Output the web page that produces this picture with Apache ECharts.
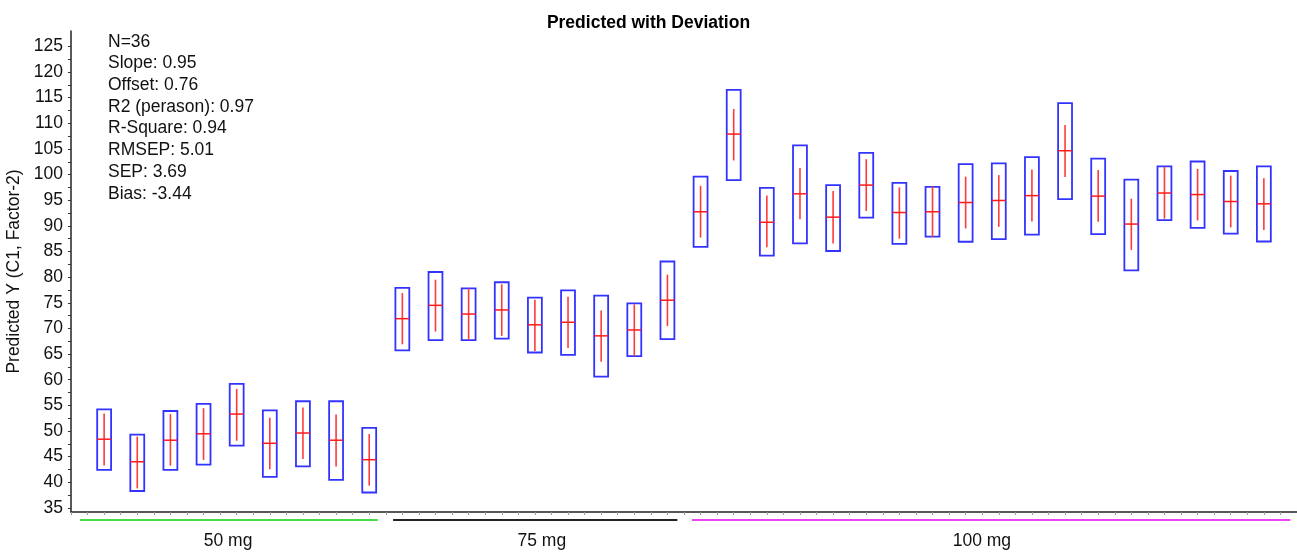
<!DOCTYPE html>
<html>
<head>
<meta charset="utf-8">
<script src="https://cdn.jsdelivr.net/npm/echarts@6/dist/echarts.min.js"></script>
<style>
html,body{margin:0;padding:0;background:#fff;}
#chart{width:1297px;height:552px;}
</style>
</head>
<body>
<div id="chart"></div>
<script>
// ---- data ----
const sampleIndex = [1,2,3,4,5,6,7,8,9,10,11,12,13,14,15,16,17,18,19,20,21,22,23,24,25,26,27,28,29,30,31,32,33,34,35,36];
const predicted = [48.4,44.0,48.2,49.45,53.3,47.6,49.6,48.2,44.4,
  71.9,74.5,72.8,73.6,70.7,71.2,68.55,69.7,75.5,
  92.75,107.9,90.7,96.25,91.7,97.95,92.6,92.75,94.55,94.95,95.9,104.65,95.8,90.35,96.4,96.1,94.75,94.3];
const boxHigh = [54.2,49.3,53.9,55.3,59.2,54.0,55.8,55.8,50.6,
  77.9,81.0,77.8,79.0,76.0,77.4,76.4,74.9,83.05,
  99.6,116.5,97.4,105.7,97.95,104.25,98.4,97.6,102.05,102.2,103.4,113.95,103.1,99.0,101.6,102.55,100.7,101.6];
const boxLow = [42.4,38.3,42.4,43.45,47.15,41.05,43.1,40.45,38.0,
  65.7,67.7,67.7,68.0,65.3,64.85,60.6,64.6,67.9,
  85.9,98.9,84.2,86.6,85.1,91.6,86.5,87.9,86.9,87.4,88.3,95.2,88.4,81.3,91.1,89.6,88.5,86.95];
const devHigh = [53.4,48.9,53.3,54.45,58.2,52.6,54.6,53.2,49.4,
  76.9,79.5,77.8,78.6,75.6,76.2,73.5,74.7,80.5,
  97.8,112.8,95.9,101.3,96.8,103.0,97.5,97.7,99.6,99.9,101.0,109.65,100.9,95.3,101.5,101.1,99.8,99.3];
const devLow = [43.25,38.8,43.25,44.35,48.1,42.55,44.55,43.05,39.35,
  66.9,69.4,67.8,68.55,65.6,66.2,63.5,64.6,70.45,
  87.7,102.75,85.85,91.3,86.55,92.9,87.5,87.8,89.5,89.8,90.85,99.55,90.8,85.3,91.4,91.05,89.7,89.2];

const groupNames = ['50 mg','75 mg','100 mg'];
const groupStart = [0.27, 9.72, 18.74];
const groupEnd = [9.26, 18.3, 36.8];
const groupLabelAt = [4.74, 14.21, 27.49];
const groupColors = ['#44dd44','#222222','#ee44ee'];

const yTickValues = [];
for (let v = 35; v <= 125; v += 2.5) yTickValues.push(v);
const yLabelValues = [35,40,45,50,55,60,65,70,75,80,85,90,95,100,105,110,115,120,125];

const statsLines = ['N=36','Slope: 0.95','Offset: 0.76','R2 (perason): 0.97','R-Square: 0.94','RMSEP: 5.01','SEP: 3.69','Bias: -3.44'];

const Y_MIN = 34.2, Y_MAX = 128;
const FONT = '"Liberation Sans", Arial, sans-serif';

const boxData = sampleIndex.map((x, i) => [x, predicted[i], boxLow[i], boxHigh[i], devLow[i], devHigh[i]]);
const groupData = groupNames.map((n, i) => [groupStart[i], groupEnd[i], groupLabelAt[i], i]);

const chart = echarts.init(document.getElementById('chart'), null, {renderer: 'canvas'});
chart.setOption({
  animation: false,
  backgroundColor: '#ffffff',
  title: {
    text: 'Predicted with Deviation',
    left: 'center', top: 9,
    textStyle: {fontFamily: FONT, fontSize: 17.5, fontWeight: 'bold', color: '#000'}
  },
  grid: {left: 71, right: 0, top: 31, bottom: 40, containLabel: false, outerBoundsMode: 'none'},
  xAxis: {
    type: 'value', min: 0, max: 37, interval: 0.5,
    axisLine: {show: true, lineStyle: {color: '#222', width: 1.5}},
    axisTick: {show: true, length: 3, inside: false, lineStyle: {color: '#999', width: 1}},
    axisLabel: {show: false},
    splitLine: {show: false}
  },
  yAxis: {
    type: 'value', min: Y_MIN, max: Y_MAX,
    name: 'Predicted Y (C1, Factor-2)',
    nameLocation: 'middle', nameGap: 41, nameRotate: 90,
    nameTextStyle: {fontFamily: FONT, fontSize: 17.5, color: '#111'},
    axisLine: {show: true, lineStyle: {color: '#222', width: 1.5}},
    axisTick: {show: true, length: 3, customValues: yTickValues, lineStyle: {color: '#333', width: 1}},
    axisLabel: {customValues: yLabelValues, margin: 8, fontFamily: FONT, fontSize: 17.5, color: '#111'},
    splitLine: {show: false}
  },
  graphic: [{
    type: 'text', left: 108, top: 31,
    style: {text: statsLines.join('\n'), font: '17.5px ' + FONT, lineHeight: 21.7, fill: '#111'}
  }],
  series: [{
    type: 'custom',
    data: boxData,
    encode: {x: 0, y: [1,2,3,4,5]},
    renderItem: function (params, api) {
      const x = api.value(0);
      const pred = api.coord([x, api.value(1)]);
      const lo = api.coord([x, api.value(2)]);
      const hi = api.coord([x, api.value(3)]);
      const dLo = api.coord([x, api.value(4)]);
      const dHi = api.coord([x, api.value(5)]);
      const w = api.size([1, 0])[0] * 0.42;
      return {
        type: 'group',
        children: [
          {type: 'rect', shape: {x: pred[0] - w / 2, y: hi[1], width: w, height: lo[1] - hi[1]},
           style: {fill: 'none', stroke: '#3333ff', lineWidth: 1.8}},
          {type: 'line', shape: {x1: pred[0], y1: dHi[1], x2: pred[0], y2: dLo[1]},
           style: {stroke: '#ff3a3a', lineWidth: 1.6}},
          {type: 'line', shape: {x1: pred[0] - w / 2, y1: pred[1], x2: pred[0] + w / 2, y2: pred[1]},
           style: {stroke: '#ff1a1a', lineWidth: 1.5}}
        ]
      };
    }
  }, {
    type: 'custom',
    data: groupData,
    clip: false,
    encode: {x: [0, 1]},
    renderItem: function (params, api) {
      const s = api.coord([api.value(0), Y_MIN]);
      const e = api.coord([api.value(1), Y_MIN]);
      const c = api.coord([api.value(2), Y_MIN]);
      const gi = api.value(3);
      return {
        type: 'group',
        children: [
          {type: 'line', shape: {x1: s[0], y1: s[1] + 8, x2: e[0], y2: e[1] + 8},
           style: {stroke: groupColors[gi], lineWidth: 2}},
          {type: 'text', x: c[0], y: c[1] + 29,
           style: {text: groupNames[gi], font: '17.5px ' + FONT, fill: '#111', align: 'center', verticalAlign: 'middle'}}
        ]
      };
    }
  }]
});
</script>
</body>
</html>
